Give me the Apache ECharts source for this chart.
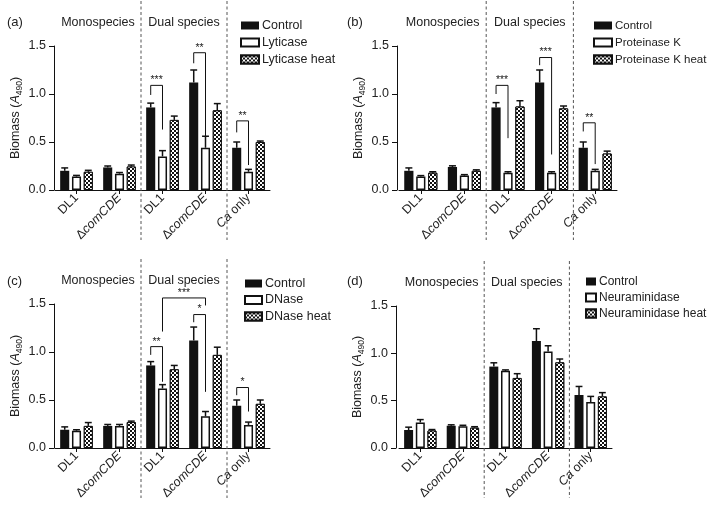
<!DOCTYPE html>
<html><head><meta charset="utf-8">
<script src="https://cdn.jsdelivr.net/npm/echarts@6/dist/echarts.min.js"></script>
<style>html,body{margin:0;padding:0;background:#fff}#c{width:708px;height:510px}</style>
</head><body><div id="c"></div>
<script>
// ---------- data ----------
const categories = ['DL1', 'ΔcomCDE', 'DL1', 'ΔcomCDE', 'Ca only'];
const yTicks = [0, 0.5, 1.0, 1.5];
const panelLabels = ['(a)', '(b)', '(c)', '(d)'];
const groupLabels = ['Monospecies', 'Dual species'];

// (a) Lyticase
const namesA = ['Control', 'Lyticase', 'Lyticase heat'];
const controlA = [0.20, 0.235, 0.86, 1.12, 0.44];
const controlErrA = [0.03, 0.015, 0.045, 0.13, 0.06];
const lyticase = [0.14, 0.17, 0.35, 0.44, 0.19];
const lyticaseErr = [0.012, 0.012, 0.06, 0.12, 0.025];
const lyticaseHeat = [0.19, 0.245, 0.73, 0.83, 0.50];
const lyticaseHeatErr = [0.015, 0.015, 0.04, 0.07, 0.01];
const bracketsA = [[2, 0, 2, 1, 1.09, 0.99, 0.63], [3, 0, 3, 1, 1.43, 1.32, 0.49], [4, 0, 4, 1, 0.72, 0.60, 0.26]];
const starsA = ['***', '**', '**'];

// (b) Proteinase K
const namesB = ['Control', 'Proteinase K', 'Proteinase K heat'];
const controlB = [0.20, 0.24, 0.86, 1.12, 0.44];
const controlErrB = [0.03, 0.012, 0.05, 0.13, 0.06];
const proteinase = [0.14, 0.15, 0.18, 0.18, 0.20];
const proteinaseErr = [0.01, 0.01, 0.01, 0.01, 0.015];
const proteinaseHeat = [0.18, 0.20, 0.87, 0.85, 0.38];
const proteinaseHeatErr = [0.01, 0.01, 0.06, 0.025, 0.025];
const bracketsB = [[2, 0, 2, 1, 1.09, 1.0, 0.54], [3, 0, 3, 1, 1.38, 1.30, 0.37], [4, 0, 4, 1, 0.70, 0.61, 0.27]];
const starsB = ['***', '***', '**'];

// (c) DNase
const namesC = ['Control', 'DNase', 'DNase heat'];
const controlC = [0.19, 0.23, 0.86, 1.12, 0.44];
const controlErrC = [0.03, 0.015, 0.04, 0.14, 0.06];
const dnase = [0.18, 0.23, 0.62, 0.33, 0.24];
const dnaseErr = [0.01, 0.015, 0.04, 0.05, 0.03];
const dnaseHeat = [0.23, 0.27, 0.82, 0.97, 0.46];
const dnaseHeatErr = [0.035, 0.01, 0.04, 0.08, 0.04];
const bracketsC = [[2, 0, 2, 1, 1.056, 0.97, 0.69], [3, 0, 3, 1, 1.39, 1.31, 0.585], [2, 1, 3, 1, 1.563, 1.213, 1.485], [4, 0, 4, 1, 0.63, 0.55, 0.38]];
const starsC = ['**', '*', '***', '*'];

// (d) Neuraminidase
const namesD = ['Control', 'Neuraminidase', 'Neuraminidase heat'];
const controlD = [0.19, 0.235, 0.86, 1.13, 0.56];
const controlErrD = [0.03, 0.01, 0.04, 0.13, 0.09];
const neuraminidase = [0.27, 0.23, 0.815, 1.02, 0.485];
const neuraminidaseErr = [0.03, 0.01, 0.01, 0.06, 0.06];
const neuraminidaseHeat = [0.185, 0.215, 0.74, 0.905, 0.545];
const neuraminidaseHeatErr = [0.01, 0.01, 0.045, 0.035, 0.04];
const bracketsD = [];
const starsD = [];

// ---------- layout / style ----------
const FONT = 'Liberation Sans, Arial, sans-serif';
const TXT = '#222';
const FS = 12.5;
const OFF = 0.274;   // bar-centre spacing as fraction of band
const BWF = 0.211;   // bar width fraction of band

const panels = [
  {names: namesA, vals: [controlA, lyticase, lyticaseHeat], errs: [controlErrA, lyticaseErr, lyticaseHeatErr], br: bracketsA, st: starsA,
   grid: {left: 55, top: 46, width: 215, height: 144}, yOff: 1, legend: {left: 235, top: 13, w: 18, gap: 2, fs: 12.5}, label: {left: 2, top: 11}},
  {names: namesB, vals: [controlB, proteinase, proteinaseHeat], errs: [controlErrB, proteinaseErr, proteinaseHeatErr], br: bracketsB, st: starsB,
   grid: {left: 399, top: 46, width: 218, height: 144}, yOff: 2, legend: {left: 588, top: 13, w: 18, gap: 2, fs: 11.5}, label: {left: 342, top: 11}},
  {names: namesC, vals: [controlC, dnase, dnaseHeat], errs: [controlErrC, dnaseErr, dnaseHeatErr], br: bracketsC, st: starsC,
   grid: {left: 55, top: 304, width: 215, height: 144}, yOff: 1, legend: {left: 239, top: 271, w: 17, gap: 1.5, fs: 12.5}, label: {left: 2, top: 270}},
  {names: namesD, vals: [controlD, neuraminidase, neuraminidaseHeat], errs: [controlErrD, neuraminidaseErr, neuraminidaseHeatErr], br: bracketsD, st: starsD,
   grid: {left: 399, top: 306, width: 213, height: 142}, yOff: 3, legend: {left: 580, top: 269, w: 10, gap: 1, fs: 12}, label: {left: 342, top: 270}}
];

const barStyles = [
  {color: '#111', borderColor: '#111', borderWidth: 0},
  {color: '#fff', borderColor: '#111', borderWidth: 1.5},
  {color: '#111', borderColor: '#111', borderWidth: 1,
   decal: {symbol: 'rect', symbolSize: 1, color: '#fff', dashArrayX: [[2, 2], [0, 2, 2, 0]], dashArrayY: [2, 0], rotation: 0}}
];

const catRich = {
  n: {fontSize: FS, fontFamily: FONT, color: TXT},
  i: {fontSize: FS, fontFamily: FONT, color: TXT, fontStyle: 'italic'}
};
function catFormatter(v) {
  if (v === 'ΔcomCDE') return '{n|Δ}{i|comCDE}';
  if (v === 'Ca only') return '{i|Ca}{n| only}';
  return '{n|' + v + '}';
}

function errRender(params, api) {
  const cat = api.value(0), bi = api.value(1), v = api.value(2), e = api.value(3);
  const band = api.size([1, 0])[0];
  const x = api.coord([cat, 0])[0] + (bi - 1) * OFF * band;
  const y0 = api.coord([cat, v])[1], y1 = api.coord([cat, v + e])[1];
  const cap = BWF * band * 0.38;
  const st = {stroke: '#111', lineWidth: 1.5};
  return {type: 'group', children: [
    {type: 'line', shape: {x1: x, y1: y0, x2: x, y2: y1}, style: st},
    {type: 'line', shape: {x1: x - cap, y1: y1, x2: x + cap, y2: y1}, style: st}
  ]};
}

function makeBracketRender(stars) {
  return function (params, api) {
    const band = api.size([1, 0])[0];
    const xl = api.coord([api.value(0), 0])[0] + (api.value(1) - 1) * OFF * band;
    const xr = api.coord([api.value(2), 0])[0] + (api.value(3) - 1) * OFF * band;
    const yt = api.coord([0, api.value(4)])[1];
    const yl = api.coord([0, api.value(5)])[1];
    const yr = api.coord([0, api.value(6)])[1];
    return {type: 'group', children: [
      {type: 'polyline', shape: {points: [[xl, yl], [xl, yt], [xr, yt], [xr, yr]]}, style: {stroke: '#111', lineWidth: 1, fill: null}},
      {type: 'text', style: {text: stars[params.dataIndex], x: (xl + xr) / 2, y: yt - 5, align: 'center', verticalAlign: 'middle',
        fontSize: 10.5, fontFamily: FONT, fill: TXT}}
    ]};
  };
}

function decoRender(params, api) {
  const band = api.size([1, 0])[0];
  const c = i => api.coord([i, 0])[0];
  const yBottom = api.coord([0, yTicks[0]])[1];
  const yTop = api.coord([0, yTicks[yTicks.length - 1]])[1];
  const x1 = c(1) + band / 2, x2 = c(3) + band / 2;
  const ls = {stroke: '#555', lineWidth: 1, lineDash: [3, 2.5]};
  const ts = {fontSize: FS, fontFamily: FONT, fill: TXT, align: 'center', verticalAlign: 'middle'};
  return {type: 'group', children: [
    {type: 'line', shape: {x1: x1, y1: yTop - 45, x2: x1, y2: yBottom + 50}, style: ls},
    {type: 'line', shape: {x1: x2, y1: yTop - 45, x2: x2, y2: yBottom + 50}, style: ls},
    {type: 'text', style: Object.assign({text: groupLabels[0], x: (c(0) + c(1)) / 2, y: yTop - 23}, ts)},
    {type: 'text', style: Object.assign({text: groupLabels[1], x: (c(2) + c(3)) / 2, y: yTop - 23}, ts)}
  ]};
}

const option = {
  backgroundColor: '#fff',
  animation: false,
  textStyle: {fontFamily: FONT, color: TXT},
  title: [], legend: [], grid: [], xAxis: [], yAxis: [], series: []
};

panels.forEach((p, pi) => {
  option.title.push({text: panelLabels[pi], left: p.label.left, top: p.label.top,
    textStyle: {fontSize: 13, fontWeight: 'normal', fontFamily: FONT, color: TXT}});
  option.grid.push(Object.assign({outerBoundsMode: 'none', containLabel: false}, p.grid));
  option.legend.push({
    data: p.names, orient: 'vertical', left: p.legend.left, top: p.legend.top,
    itemWidth: p.legend.w, itemHeight: 8, itemGap: p.legend.gap, icon: 'rect', selectedMode: false,
    textStyle: {fontSize: p.legend.fs, fontFamily: FONT, color: TXT, lineHeight: 15, padding: [0, 0, 0, -2]}
  });
  option.xAxis.push({
    type: 'category', gridIndex: pi, data: categories,
    axisLine: {show: true, lineStyle: {color: '#111', width: 1}},
    axisTick: {show: true, alignWithLabel: true, length: 4, lineStyle: {color: '#111'}},
    axisLabel: {rotate: 45, margin: 6, interval: 0, formatter: catFormatter, rich: catRich},
    splitLine: {show: false}
  });
  option.yAxis.push({
    type: 'value', gridIndex: pi, min: yTicks[0], max: yTicks[yTicks.length - 1], interval: yTicks[1] - yTicks[0],
    offset: p.yOff,
    name: '{n|Biomass (}{i|A}{s|490}{n|)}', nameLocation: 'middle', nameGap: 30, nameRotate: 90,
    nameMoveOverlap: false,
    nameTextStyle: {rich: {
      n: {fontSize: FS, fontFamily: FONT, color: TXT, lineHeight: 16},
      i: {fontSize: FS, fontFamily: FONT, color: TXT, fontStyle: 'italic', lineHeight: 16},
      s: {fontSize: 8.5, fontFamily: FONT, color: TXT, verticalAlign: 'bottom', lineHeight: 12}
    }},
    axisLine: {show: true, lineStyle: {color: '#111', width: 1}},
    axisTick: {show: true, length: 5, lineStyle: {color: '#111'}},
    axisLabel: {fontSize: FS, fontFamily: FONT, color: TXT, margin: 8, formatter: v => v.toFixed(1)},
    splitLine: {show: false}
  });
  p.names.forEach((nm, si) => {
    option.series.push({
      type: 'bar', name: nm, xAxisIndex: pi, yAxisIndex: pi, data: p.vals[si],
      barGap: '30%', barCategoryGap: '24%', itemStyle: barStyles[si], z: 2
    });
  });
  const errData = [];
  p.vals.forEach((arr, si) => arr.forEach((v, ci) => errData.push([ci, si, v, p.errs[si][ci]])));
  option.series.push({type: 'custom', xAxisIndex: pi, yAxisIndex: pi, data: errData, renderItem: errRender, clip: false, z: 3, silent: true});
  if (p.br.length) {
    option.series.push({type: 'custom', xAxisIndex: pi, yAxisIndex: pi, data: p.br, renderItem: makeBracketRender(p.st), clip: false, z: 3, silent: true});
  }
  option.series.push({type: 'custom', xAxisIndex: pi, yAxisIndex: pi, data: [[0, 0]], renderItem: decoRender, clip: false, z: 1, silent: true});
});

const chart = echarts.init(document.getElementById('c'), null, {renderer: 'canvas'});
chart.setOption(option);
</script></body></html>
